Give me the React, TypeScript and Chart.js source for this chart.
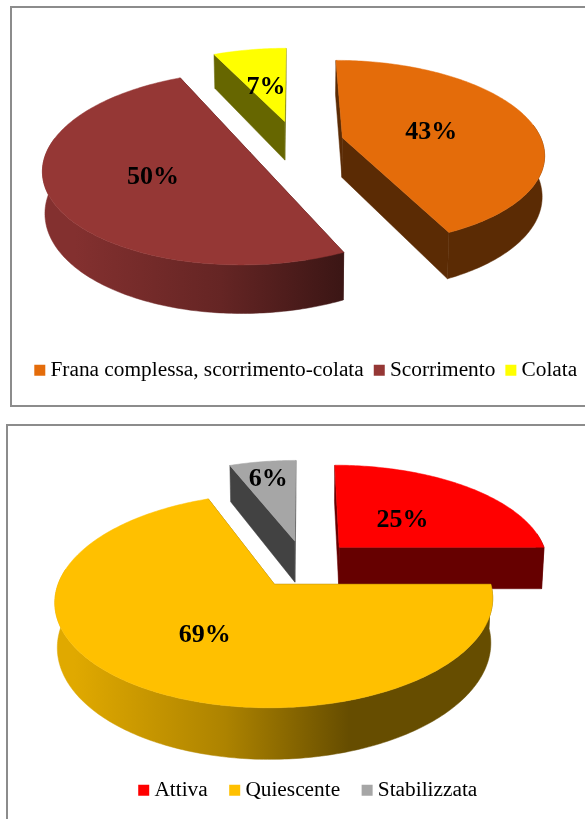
import React, { useEffect, useRef } from "react";
import { Chart, registerables } from "chart.js";

Chart.register(...registerables);

const typeLabels = ["Frana complessa, scorrimento-colata", "Scorrimento", "Colata"];
const typeValues = [43, 50, 7];
const typeColors = ["#E46C0A", "#953735", "#FFFF00"];

const stateLabels = ["Attiva", "Quiescente", "Stabilizzata"];
const stateValues = [25, 69, 6];
const stateColors = ["#FF0000", "#FFC000", "#A6A6A6"];

const SERIF = '"Liberation Serif", "Times New Roman", serif';

function shade(hex: string, f: number) {
  const n = parseInt(hex.slice(1), 16);
  const c = [(n >> 16) & 255, (n >> 8) & 255, n & 255].map((v) => Math.round(v * f));
  return `rgb(${c[0]},${c[1]},${c[2]})`;
}

const pie3d = {
  id: "pie3d",
  beforeDatasetDraw(chart: any, _args: any, o: any) {
    const ctx = chart.ctx;
    const arcs = chart.getDatasetMeta(0).data;
    const data = chart.data.datasets[0].data;
    const total = data.reduce((a: number, b: number) => a + b, 0);
    const first = arcs[0];
    const cx = first.x + o.dx;
    const cy = first.y + o.dy;
    const R = first.outerRadius;

    const slices = arcs.map((arc: any, i: number) => {
      const mid = (arc.startAngle + arc.endAngle) / 2;
      const off = arc.options.offset;
      const ox = Math.cos(mid) * off;
      const oy = Math.sin(mid) * off;
      const project = (a: number, r: number) => {
        const X = Math.cos(a) * r + ox;
        const V = Math.sin(a) * r + oy;
        const s = 1 / (1 - o.persp * V);
        return { x: cx + X * s, y: cy + o.squash * V * s, s, a };
      };
      return { arc, i, mid, oy, project, color: arc.options.backgroundColor };
    });

    const below = (p: any) => ({
      x: cx + (p.x - cx) * 0.99,
      y: p.y + o.depth * p.s,
    });
    const poly = (pts: any[], fill: any) => {
      ctx.beginPath();
      pts.forEach((p, k) => (k ? ctx.lineTo(p.x, p.y) : ctx.moveTo(p.x, p.y)));
      ctx.closePath();
      ctx.fillStyle = fill;
      ctx.strokeStyle = fill;
      ctx.lineWidth = 0.5;
      ctx.fill();
      ctx.stroke();
    };

    ctx.save();
    [...slices]
      .sort((a: any, b: any) => a.oy - b.oy)
      .forEach((sl: any) => {
        const { arc, project, color } = sl;
        const apex = project(0, 0);
        const rim: any[] = [];
        const steps = Math.max(8, Math.ceil((arc.endAngle - arc.startAngle) * 60));
        for (let k = 0; k <= steps; k++) {
          rim.push(project(arc.startAngle + ((arc.endAngle - arc.startAngle) * k) / steps, R));
        }
        const wall = shade(color, 0.4);
        // radial walls
        [rim[0], rim[rim.length - 1]].forEach((p) => {
          poly([apex, p, below(p), below(apex)], wall);
        });
        // curved wall, only where the rim faces the viewer, lit from the left
        const front = rim.filter((p) => Math.sin(p.a) > -0.15);
        if (front.length > 1) {
          const g = ctx.createLinearGradient(cx - R - 20, 0, cx + 45, 0);
          g.addColorStop(0, shade(color, 0.88));
          g.addColorStop(0.55, shade(color, 0.68));
          g.addColorStop(1, wall);
          poly([...front, ...[...front].reverse().map(below)], g);
        }
        // top face
        poly([apex, ...rim], color);
      });

    ctx.fillStyle = "#000";
    ctx.font = `bold ${o.labelSize}px ${SERIF}`;
    ctx.textAlign = "center";
    ctx.textBaseline = "middle";
    slices.forEach((sl: any) => {
      const p = sl.project(sl.mid, R * o.labelAt[sl.i]);
      ctx.fillText(`${Math.round((data[sl.i] / total) * 100)}%`, p.x, p.y + o.labelDy);
    });
    ctx.restore();
    return false;
  },
};

function Pie(props: {
  labels: string[];
  values: number[];
  colors: string[];
  top: number;
  width: number;
  height: number;
  radius: number;
  offset: number;
  legendGap: number;
  geo: any;
}) {
  const ref = useRef<HTMLCanvasElement>(null);
  useEffect(() => {
    const chart = new Chart(ref.current as HTMLCanvasElement, {
      type: "pie",
      data: {
        labels: props.labels,
        datasets: [
          {
            data: props.values,
            backgroundColor: props.colors,
            borderWidth: 0,
            offset: props.offset,
          },
        ],
      },
      options: {
        responsive: false,
        animation: false,
        events: [],
        radius: props.radius,
        plugins: {
          tooltip: { enabled: false },
          legend: {
            position: "bottom",
            labels: {
              color: "#000",
              font: { family: SERIF, size: 21.33 },
              usePointStyle: true,
              pointStyle: "rect",
              boxWidth: 0.01,
              boxHeight: 11,
              padding: props.legendGap,
            },
          },
          pie3d: props.geo,
        },
      } as any,
      plugins: [pie3d as any],
    });
    return () => chart.destroy();
  }, []);
  return (
    <canvas
      ref={ref}
      width={props.width}
      height={props.height}
      style={{ position: "absolute", left: 0, top: props.top, width: props.width, height: props.height }}
    />
  );
}

export default function App() {
  const line = "2px solid #8c8c8c";
  return (
    <div
      style={{
        position: "absolute",
        left: 0,
        top: 0,
        width: 585,
        height: 819,
        overflow: "hidden",
        background: "#fff",
      }}
    >
      <div
        style={{
          position: "absolute",
          left: 10,
          top: 6,
          width: 620,
          height: 397,
          borderLeft: line,
          borderTop: line,
          borderBottom: line,
        }}
      />
      <div
        style={{
          position: "absolute",
          left: 6,
          top: 424,
          width: 620,
          height: 420,
          borderLeft: line,
          borderTop: line,
        }}
      />
      <Pie
        labels={typeLabels}
        values={typeValues}
        colors={typeColors}
        top={0}
        width={617}
        height={391}
        radius={200}
        offset={49}
        legendGap={15.5}
        geo={{ dx: -13.5, dy: -29.5, squash: 0.456, persp: 0.0008, depth: 40, labelAt: [0.47, 0.5, 0.5], labelDy: 4, labelSize: 26 }}
      />
      <Pie
        labels={stateLabels}
        values={stateValues}
        colors={stateColors}
        top={425}
        width={621}
        height={386}
        radius={210}
        offset={51}
        legendGap={27}
        geo={{ dx: -6.5, dy: -25, squash: 0.47, persp: 0.0007, depth: 42.5, labelAt: [0.47, 0.52, 0.8], labelDy: 3, labelSize: 26 }}
      />
    </div>
  );
}
